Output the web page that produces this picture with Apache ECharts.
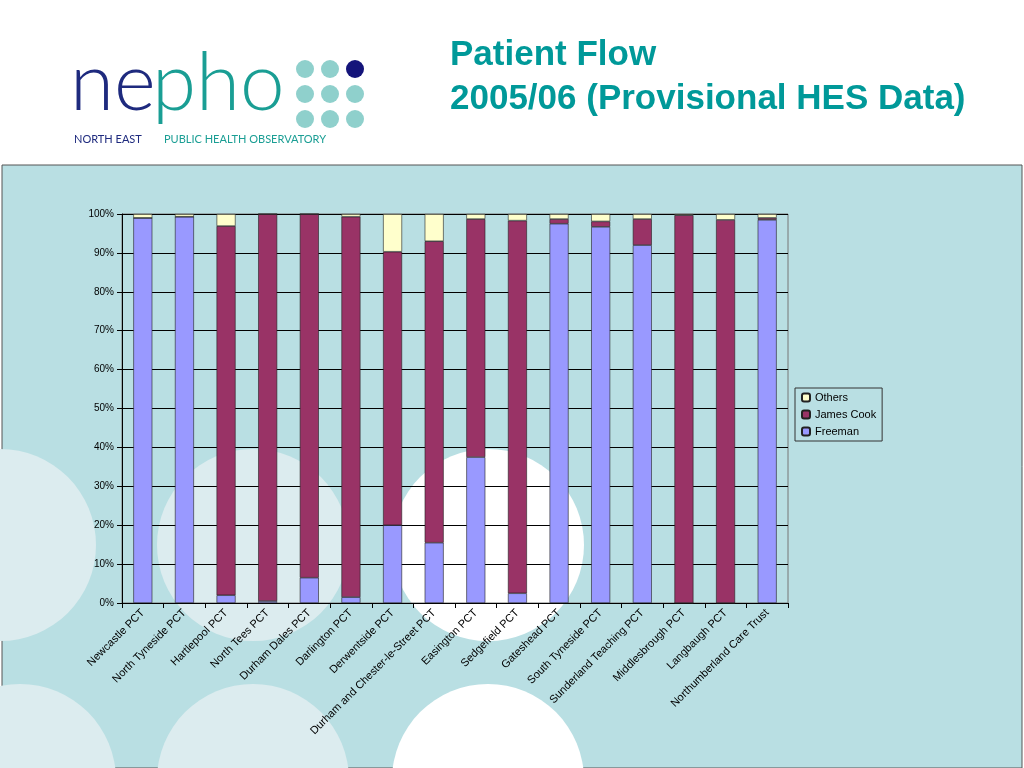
<!DOCTYPE html>
<html>
<head>
<meta charset="UTF-8">
<script src="https://cdn.jsdelivr.net/npm/echarts@6/dist/echarts.min.js"></script>
<style>html,body{margin:0;padding:0;background:#fff}#main{width:1024px;height:768px}</style>
</head>
<body>
<div id="main"></div>
<script>
var categories = ['Newcastle PCT', 'North Tyneside PCT', 'Hartlepool PCT', 'North Tees PCT', 'Durham Dales PCT',
    'Darlington PCT', 'Derwentside PCT', 'Durham and Chester-le-Street PCT', 'Easington PCT', 'Sedgefield PCT',
    'Gateshead PCT', 'South Tyneside PCT', 'Sunderland Teaching PCT', 'Middlesbrough PCT', 'Langbaugh PCT',
    'Northumberland Care Trust'];
var freeman   = [99.0, 99.3, 2.0, 0.5, 6.5, 1.5, 20.0, 15.5, 37.5, 2.5, 97.5, 96.7, 92.0, 0.0, 0.0, 98.5];
var jamesCook = [0.0, 0.0, 94.9, 99.5, 93.5, 97.8, 70.3, 77.5, 61.2, 95.8, 1.2, 1.4, 6.7, 99.7, 98.5, 0.5];
var others    = [1.0, 0.7, 3.1, 0.0, 0.0, 0.7, 9.7, 7.0, 1.3, 1.7, 1.3, 1.9, 1.3, 0.3, 1.5, 1.0];

var bg = '#b9dfe3';
var chart = echarts.init(document.getElementById('main'));

function bar(name, data, color) {
    return {
        name: name, type: 'bar', stack: 'all', data: data, barWidth: 19,
        itemStyle: {color: color, borderColor: '#222', borderWidth: 0.6}
    };
}

chart.setOption({
    animation: false,
    textStyle: {fontFamily: 'Liberation Sans, Arial, sans-serif'},
    graphic: [
        {type: 'rect', shape: {x: 2, y: 165, width: 1020, height: 603}, style: {fill: bg, stroke: '#555', lineWidth: 1}, z: -10},
        {type: 'circle', shape: {cx: 0, cy: 545, r: 96}, style: {fill: '#dcecef'}, z: -9},
        {type: 'circle', shape: {cx: 253, cy: 545, r: 96}, style: {fill: '#dcecef'}, z: -9},
        {type: 'circle', shape: {cx: 488, cy: 545, r: 96}, style: {fill: '#ffffff'}, z: -9},
        {type: 'circle', shape: {cx: 20, cy: 780, r: 96}, style: {fill: '#dcecef'}, z: -9},
        {type: 'circle', shape: {cx: 253, cy: 780, r: 96}, style: {fill: '#dcecef'}, z: -9},
        {type: 'circle', shape: {cx: 488, cy: 780, r: 96}, style: {fill: '#ffffff'}, z: -9},
        {type: 'text', left: 450, top: 33, style: {text: 'Patient Flow\n2005/06 (Provisional HES Data)', fill: '#009999',
            font: 'bold 35px Liberation Sans, Arial, sans-serif', lineHeight: 44}},
        {type: 'text', left: 70, top: 44, style: {text: 'ne', fill: '#1e2a7e', font: '300 80px Lato, sans-serif'}},
        {type: 'text', left: 152, top: 44, style: {text: 'pho', fill: '#1a9e94', font: '300 80px Lato, sans-serif'}},
        {type: 'text', left: 74, top: 134, style: {text: 'NORTH EAST', fill: '#1e2a7e', font: '11px Lato, sans-serif'}},
        {type: 'text', left: 164, top: 134, style: {text: 'PUBLIC HEALTH OBSERVATORY', fill: '#1a9e94', font: '11px Lato, sans-serif'}},
        {type: 'group', left: 296, top: 60, children: [0, 1, 2].reduce(function (a, r) {
            return a.concat([0, 1, 2].map(function (c) {
                return {type: 'circle', shape: {cx: c * 25 + 9, cy: r * 25 + 9, r: 9},
                    style: {fill: (r === 0 && c === 2) ? '#14147a' : '#8fd0cc'}};
            }));
        }, [])}
    ],
    legend: {
        orient: 'vertical', left: 795, top: 388, itemWidth: 8, itemHeight: 8, itemGap: 6,
        backgroundColor: bg, borderColor: '#333', borderWidth: 1, padding: [4, 6],
        textStyle: {fontSize: 11, color: '#000'},
        data: ['Others', 'James Cook', 'Freeman']
    },
    grid: {left: 122, right: 236, top: 214, bottom: 165, show: true, backgroundColor: 'transparent', borderColor: '#777', borderWidth: 1},
    xAxis: {
        type: 'category', data: categories,
        axisLine: {lineStyle: {color: '#000'}}, axisTick: {show: true, lineStyle: {color: '#000'}},
        axisLabel: {rotate: 45, interval: 0, fontSize: 11, color: '#000', margin: 8}
    },
    yAxis: {
        type: 'value', min: 0, max: 100, interval: 10,
        axisLabel: {formatter: '{value}%', fontSize: 10, color: '#000'},
        axisLine: {show: true, lineStyle: {color: '#000'}}, axisTick: {show: true},
        splitLine: {lineStyle: {color: '#000'}}
    },
    series: [
        bar('Freeman', freeman, '#9999ff'),
        bar('James Cook', jamesCook, '#993366'),
        bar('Others', others, '#ffffcc')
    ]
});
</script>
</body>
</html>
